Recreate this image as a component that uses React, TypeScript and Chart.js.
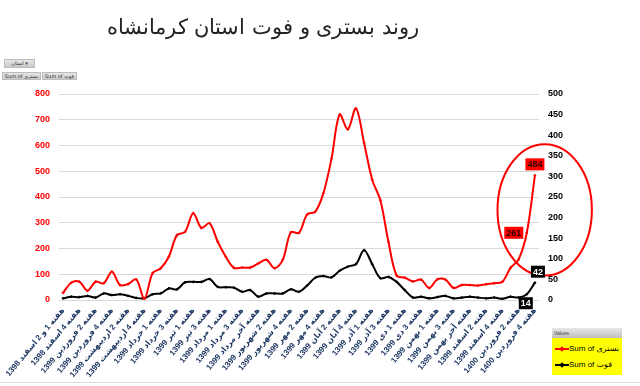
import React, { useEffect, useRef } from 'react';
import { Chart, registerables } from 'chart.js';

Chart.register(...registerables);

const categories: string[] = [
  'هفته 1 و 2 اسفند 1398', 'هفته 3 اسفند 1398', 'هفته 4 اسفند 1398',
  'هفته 1 فروردین 1399', 'هفته 2 فروردین 1399', 'هفته 3 فروردین 1399', 'هفته 4 فروردین 1399',
  'هفته 1 اردیبهشت 1399', 'هفته 2 اردیبهشت 1399', 'هفته 3 اردیبهشت 1399', 'هفته 4 اردیبهشت 1399', 'هفته آخر اردیبهشت 1399',
  'هفته 1 خرداد 1399', 'هفته 2 خرداد 1399', 'هفته 3 خرداد 1399', 'هفته 4 خرداد 1399',
  'هفته 1 تیر 1399', 'هفته 2 تیر 1399', 'هفته 3 تیر 1399', 'هفته 4 تیر 1399',
  'هفته 1 مرداد 1399', 'هفته 2 مرداد 1399', 'هفته 3 مرداد 1399', 'هفته 4 مرداد 1399', 'هفته آخر مرداد 1399',
  'هفته 1 شهریور 1399', 'هفته 2 شهریور 1399', 'هفته 3 شهریور 1399', 'هفته 4 شهریور 1399',
  'هفته 1 مهر 1399', 'هفته 2 مهر 1399', 'هفته 3 مهر 1399', 'هفته 4 مهر 1399',
  'هفته 1 آبان 1399', 'هفته 2 آبان 1399', 'هفته 3 آبان 1399', 'هفته 4 آبان 1399', 'هفته آخر آبان 1399',
  'هفته 1 آذر 1399', 'هفته 2 آذر 1399', 'هفته 3 آذر 1399', 'هفته 4 آذر 1399',
  'هفته 1 دی 1399', 'هفته 2 دی 1399', 'هفته 3 دی 1399', 'هفته 4 دی 1399',
  'هفته 1 بهمن 1399', 'هفته 2 بهمن 1399', 'هفته 3 بهمن 1399', 'هفته 4 بهمن 1399', 'هفته آخر بهمن 1399',
  'هفته 1 اسفند 1399', 'هفته 2 اسفند 1399', 'هفته 3 اسفند 1399', 'هفته 4 اسفند 1399',
  'هفته 1 فروردین 1400', 'هفته 2 فروردین 1400', 'هفته 3 فروردین 1400', 'هفته 4 فروردین 1400',
];

// بستری (left axis)
const hospitalized: number[] = [
  28, 67, 71, 36, 71, 65, 110, 58, 62, 80,
  5, 104, 123, 168, 252, 265, 337, 280, 298, 227,
  168, 125, 126, 126, 142, 156, 123, 156, 263, 261,
  332, 343, 415, 550, 720, 663, 744, 610, 467, 387,
  225, 95, 87, 72, 79, 47, 80, 79, 47, 58,
  58, 56, 61, 65, 71, 125, 158, 261, 484,
];

// فوت (right axis)
const deaths: number[] = [
  4, 8, 7, 10, 6, 16, 12, 14, 10, 5,
  4, 14, 16, 28, 26, 43, 44, 44, 51, 32,
  31, 30, 20, 24, 8, 16, 16, 16, 26, 20,
  35, 54, 58, 55, 71, 81, 87, 121, 87, 53,
  56, 44, 24, 6, 8, 4, 7, 10, 4, 6,
  8, 6, 4, 6, 3, 8, 6, 14, 42,
];

const seriesNames: string[] = ['Sum of بستری', 'Sum of فوت'];
const leftAxis = { min: 0, max: 800, step: 100 };
const rightAxis = { min: 0, max: 500, step: 50 };
const calloutIndices: number[] = [57, 58];

const TICK_FONT = "'Liberation Sans', 'DejaVu Sans', sans-serif";

const overlayPlugin = {
  id: 'overlay',
  afterDatasetsDraw(chart: any) {
    const ctx = chart.ctx;
    const xs = chart.scales.x;
    const yl = chart.scales.y;
    // highlight ellipse around the latest weeks
    const band = xs.getPixelForValue(1) - xs.getPixelForValue(0);
    const cx = xs.getPixelForValue(58) + band * 1.2;
    const top = yl.getPixelForValue(605);
    const bottom = yl.getPixelForValue(95);
    ctx.save();
    ctx.strokeStyle = '#FF0000';
    ctx.lineWidth = 2;
    ctx.beginPath();
    ctx.ellipse(cx, (top + bottom) / 2, band * 5.8, (bottom - top) / 2, 0, 0, Math.PI * 2);
    ctx.stroke();
    ctx.restore();

    // data callouts
    const styles = [
      { bg: '#FF0000', fg: '#2a0000', offsets: { 57: [-13, 0], 58: [0, -11] } as any },
      { bg: '#000000', fg: '#FFFFFF', offsets: { 57: [-1, 9], 58: [3, -11] } as any },
    ];
    ctx.save();
    ctx.font = `bold 9px ${TICK_FONT}`;
    ctx.textAlign = 'center';
    ctx.textBaseline = 'middle';
    [0, 1].forEach((ds) => {
      const meta = chart.getDatasetMeta(ds);
      const values = ds === 0 ? hospitalized : deaths;
      calloutIndices.forEach((i) => {
        const pt = meta.data[i];
        const [dx, dy] = styles[ds].offsets[i];
        const txt = String(values[i]);
        const w = ctx.measureText(txt).width + 4;
        const h = 12;
        const x = pt.x + dx;
        const y = pt.y + dy;
        ctx.fillStyle = styles[ds].bg;
        ctx.fillRect(x - w / 2, y - h / 2, w, h);
        ctx.fillStyle = styles[ds].fg;
        ctx.fillText(txt, x, y + 0.5);
      });
    });
    ctx.restore();
  },
};

function Swatch({ color }: { color: string }) {
  return (
    <div style={{ position: 'relative', width: 14, height: 8, flex: '0 0 14px' }}>
      <div style={{ position: 'absolute', left: 0, right: 0, top: 3, height: 2, background: color }} />
      <div style={{ position: 'absolute', left: 5, top: 2, width: 4, height: 4, background: color, transform: 'rotate(45deg)' }} />
    </div>
  );
}

export default function App() {
  const ref = useRef<HTMLCanvasElement>(null);

  useEffect(() => {
    document.body.style.margin = '0';
    const chart = new Chart(ref.current as HTMLCanvasElement, {
      type: 'line',
      data: {
        labels: categories,
        datasets: [
          {
            label: seriesNames[0],
            data: hospitalized,
            borderColor: '#FF0000',
            backgroundColor: '#FF0000',
            borderWidth: 2,
            pointStyle: 'rectRot',
            pointRadius: 1.6,
            pointBorderWidth: 0,
            tension: 0.35,
            yAxisID: 'y',
          },
          {
            label: seriesNames[1],
            data: deaths,
            borderColor: '#000000',
            backgroundColor: '#000000',
            borderWidth: 2,
            pointStyle: 'rectRot',
            pointRadius: 1.6,
            pointBorderWidth: 0,
            tension: 0.35,
            yAxisID: 'y1',
          },
        ],
      },
      options: {
        responsive: false,
        animation: false,
        layout: { padding: { top: 94, left: 0, right: 0, bottom: 0 } },
        plugins: {
          legend: { display: false },
          title: { display: false },
          tooltip: { enabled: false },
        },
        scales: {
          x: {
            offset: true,
            grid: { display: false, drawTicks: false },
            border: { display: false },
            ticks: {
              autoSkip: false,
              minRotation: 50,
              maxRotation: 50,
              padding: 6,
              color: '#1F3864',
              font: { family: TICK_FONT, size: 8, weight: 'bold' },
              callback: (_v: any, i: number) => (i % 2 === 0 ? categories[i] : ''),
            },
            afterFit: (s: any) => {
              s.height = 86;
              s.paddingLeft = 0;
              s.paddingRight = 0;
            },
          },
          y: {
            position: 'left',
            min: leftAxis.min,
            max: leftAxis.max,
            ticks: {
              stepSize: leftAxis.step,
              color: '#FF0000',
              padding: 9,
              font: { family: TICK_FONT, size: 9, weight: 'bold' },
            },
            grid: { color: '#D9D9D9', lineWidth: 1, drawTicks: false },
            border: { display: false },
            afterFit: (s: any) => {
              s.width = 59;
            },
          },
          y1: {
            position: 'right',
            min: rightAxis.min,
            max: rightAxis.max,
            ticks: {
              stepSize: rightAxis.step,
              color: '#000000',
              padding: 9,
              font: { family: TICK_FONT, size: 9, weight: 'bold' },
            },
            grid: { display: false, drawTicks: false },
            border: { display: false },
            afterFit: (s: any) => {
              s.width = 101;
            },
          },
        },
      } as any,
      plugins: [overlayPlugin],
    });
    return () => chart.destroy();
  }, []);

  const btn: React.CSSProperties = {
    position: 'absolute',
    background: 'linear-gradient(#e6e6e6, #c8c8c8)',
    border: '1px solid #bcbcbc',
    fontFamily: "'DejaVu Sans', sans-serif",
    fontSize: 5,
    lineHeight: '7px',
    color: '#333',
    whiteSpace: 'nowrap',
    overflow: 'hidden',
    boxSizing: 'border-box',
    textAlign: 'center',
  };

  return (
    <div style={{ position: 'relative', width: 640, height: 386, background: '#fff', overflow: 'hidden' }}>
      <canvas ref={ref} width={640} height={386} style={{ display: 'block', position: 'absolute', left: 0, top: 0 }} />
      <div
        style={{
          position: 'absolute',
          left: 0,
          top: 12,
          width: 526,
          textAlign: 'center',
          fontFamily: "'DejaVu Sans', sans-serif",
          fontSize: 21,
          fontWeight: 300,
          lineHeight: '30px',
          color: '#222',
          whiteSpace: 'nowrap',
        }}
      >
        روند بستری و فوت استان کرمانشاه
      </div>
      <div style={{ ...btn, left: 4, top: 59, width: 31, height: 9 }}>استان ▾</div>
      <div style={{ ...btn, left: 2, top: 72, width: 39, height: 8 }}>Sum of بستری</div>
      <div style={{ ...btn, left: 42, top: 72, width: 35, height: 8 }}>Sum of فوت</div>
      <div
        style={{
          position: 'absolute',
          left: 552,
          top: 328,
          width: 70,
          height: 47,
          background: '#FFFF00',
          fontFamily: "'Liberation Sans', 'DejaVu Sans', sans-serif",
        }}
      >
        <div
          style={{
            height: 10,
            background: 'linear-gradient(#e8e8e8, #bfbfbf)',
            fontSize: 5,
            lineHeight: '10px',
            paddingLeft: 2,
            color: '#444',
          }}
        >
          Values
        </div>
        <div style={{ display: 'flex', alignItems: 'center', marginTop: 6, paddingLeft: 3, fontSize: 8, color: '#000', whiteSpace: 'nowrap' }}>
          <Swatch color="#FF0000" />
          <span>{seriesNames[0]}</span>
        </div>
        <div style={{ display: 'flex', alignItems: 'center', marginTop: 7, paddingLeft: 3, fontSize: 8, color: '#000', whiteSpace: 'nowrap' }}>
          <Swatch color="#000000" />
          <span>{seriesNames[1]}</span>
        </div>
      </div>
      <div style={{ position: 'absolute', left: 0, top: 382, width: 640, height: 1, background: '#DCDCDC' }} />
    </div>
  );
}
